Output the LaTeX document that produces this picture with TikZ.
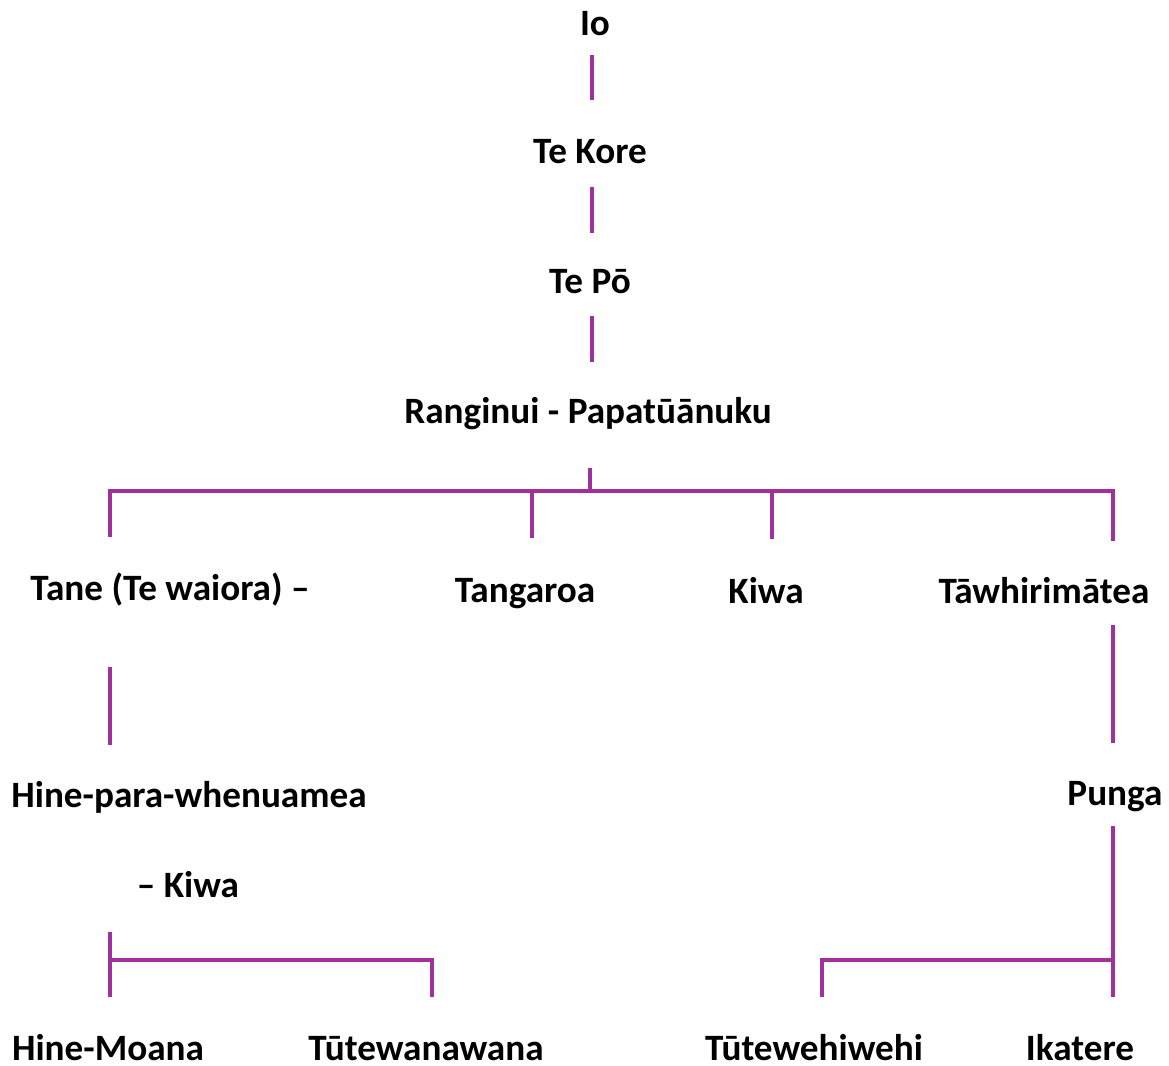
\documentclass[tikz,border=0pt]{standalone}
\usepackage{fontspec}
\setmainfont{Carlito}
\definecolor{lnk}{HTML}{A0309A}
\begin{document}
\begin{tikzpicture}[x=1pt,y=-1pt,
  lbl/.style={anchor=base,inner sep=0pt,font=\fontsize{37.2}{40}\selectfont\bfseries},
  lnkline/.style={draw=lnk,line width=3.6pt}]
\useasboundingbox[fill=white] (0,0) rectangle (1169,1065);
% labels
\node[lbl] (io) at (595,36) {Io};
\node[lbl] (kore) at (590,163) {Te Kore};
\node[lbl] (po) at (590,293) {Te Pō};
\node[lbl] (rp) at (588,423) {Ranginui - Papatūānuku};
\node[lbl] (tane) at (170,600) {Tane (Te waiora) –};
\node[lbl] (tang) at (525,602) {Tangaroa};
\node[lbl] (kiwa) at (766,603) {Kiwa};
\node[lbl] (tawh) at (1044,603) {Tāwhirimātea};
\node[lbl] (hine) at (189,807) {Hine-para-whenuamea};
\node[lbl] (kiwa2) at (188,897) {– Kiwa};
\node[lbl] (punga) at (1115,805) {Punga};
\node[lbl] (hm) at (108,1060) {Hine-Moana};
\node[lbl] (tuw) at (426,1060) {Tūtewanawana};
\node[lbl] (tuh) at (814,1060) {Tūtewehiwehi};
\node[lbl] (ika) at (1080,1060) {Ikatere};
% connector end points
\coordinate (a1) at (592,55);  \coordinate (a2) at (592,100);
\coordinate (b1) at (592,187); \coordinate (b2) at (592,233);
\coordinate (c1) at (592,316); \coordinate (c2) at (592,362);
\coordinate (d1) at (590,468); \coordinate (d2) at (590,491);
\coordinate (busL) at (110,491); \coordinate (busR) at (1113,491);
\coordinate (tA) at (110,537); \coordinate (tB) at (532,491); \coordinate (tB2) at (532,538);
\coordinate (tC) at (772,491); \coordinate (tC2) at (772,539); \coordinate (tD) at (1113,541);
\coordinate (e1) at (110,667); \coordinate (e2) at (110,745);
\coordinate (f1) at (1113,625); \coordinate (f2) at (1113,743);
\coordinate (g1) at (110,932); \coordinate (g2) at (110,997);
\coordinate (gm) at (110,960); \coordinate (gr) at (432,960); \coordinate (gr2) at (432,997);
\coordinate (h1) at (1113,826); \coordinate (h2) at (1113,997);
\coordinate (hm2) at (1113,960); \coordinate (hl) at (822,960); \coordinate (hl2) at (822,997);
% connectors
\draw[lnkline] (a1) -- (a2);
\draw[lnkline] (b1) -- (b2);
\draw[lnkline] (c1) -- (c2);
\draw[lnkline] (d1) -- (d2);
\draw[lnkline] (tA) -- (busL) -- (busR) -- (tD);
\draw[lnkline] (tB) -- (tB2);
\draw[lnkline] (tC) -- (tC2);
\draw[lnkline] (e1) -- (e2);
\draw[lnkline] (f1) -- (f2);
\draw[lnkline] (g1) -- (g2);
\draw[lnkline] (gm) -- (gr) -- (gr2);
\draw[lnkline] (h1) -- (h2);
\draw[lnkline] (hm2) -- (hl) -- (hl2);
\end{tikzpicture}
\end{document}
